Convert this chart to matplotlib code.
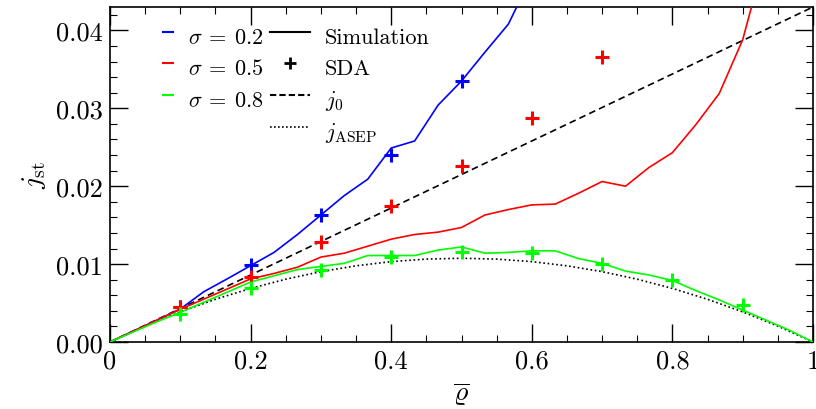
import numpy as np
import matplotlib
matplotlib.use("Agg")
import matplotlib.pyplot as plt
from matplotlib.lines import Line2D

plt.rcParams['font.family'] = 'serif'
plt.rcParams['font.serif'] = ['cmr10']
plt.rcParams['mathtext.fontset'] = 'cm'
plt.rcParams['axes.formatter.use_mathtext'] = True

# simulation grid: rho = k/30
rho_sim = np.arange(0, 31) / 30.0

sim_02 = [0.0, 0.0014, 0.0028, 0.00423, 0.00645, 0.0081, 0.0098, 0.0115, 0.0138, 0.0163,
          0.0188, 0.0209, 0.0249, 0.0258, 0.0304, 0.0335, 0.0372, 0.0408, 0.0470]
sim_05 = [0.0, 0.0014, 0.0028, 0.0042, 0.0055, 0.0068, 0.0081, 0.0088, 0.0096, 0.0109,
          0.0114, 0.0123, 0.0132, 0.0138, 0.0141, 0.0147, 0.0163, 0.0170, 0.0176, 0.0177,
          0.0191, 0.0206, 0.0200, 0.0224, 0.0243, 0.0279, 0.0319, 0.0388, 0.0500]
sim_08 = [0.0, 0.0013, 0.0026, 0.0038, 0.0051, 0.0064, 0.0077, 0.0085, 0.0093, 0.0097,
          0.0101, 0.0111, 0.0111, 0.0111, 0.0118, 0.0122, 0.0114, 0.0115, 0.0117, 0.0117,
          0.0107, 0.0101, 0.0091, 0.0086, 0.0079, 0.0066, 0.0054, 0.0041, 0.0028, 0.0015,
          0.0]

# SDA points
rho_sda = [0.1, 0.2, 0.3, 0.4, 0.5, 0.6, 0.7, 0.8, 0.9]
sda_02 = [0.00445, 0.0099, 0.0163, 0.0240, 0.0335]
sda_05 = [0.0045, 0.0084, 0.0128, 0.0174, 0.0226, 0.0287, 0.0366]
sda_08 = [0.0036, 0.0069, 0.0093, 0.0109, 0.0115, 0.0114, 0.0100, 0.0080, 0.0047]

# reference currents
rho_j0 = [0.0, 1.0]
j0 = [0.0, 0.043]
rho_asep = [0.0, 0.05, 0.1, 0.15, 0.2, 0.25, 0.3, 0.35, 0.4, 0.45, 0.5,
            0.55, 0.6, 0.65, 0.7, 0.75, 0.8, 0.85, 0.9, 0.95, 1.0]
j_asep = [0.0, 0.00204, 0.00387, 0.00548, 0.00688, 0.00806, 0.00903, 0.00978, 0.01032,
          0.01064, 0.01075, 0.01064, 0.01032, 0.00978, 0.00903, 0.00806, 0.00688,
          0.00548, 0.00387, 0.00204, 0.0]

sigmas = ['0.2', '0.5', '0.8']
colors = ['#0000ff', '#ff0000', '#00ff00']

fig = plt.figure(figsize=(8.16, 4.10), dpi=100)
ax = fig.add_axes([110 / 816, 67 / 410, 703 / 816, 335 / 410])

ax.plot(rho_j0, j0, color='k', ls=(0, (4, 2.5)), lw=1.2, zorder=2)
ax.plot(rho_asep, j_asep, color='k', ls=(0, (1, 1.6)), lw=1.2, zorder=2)

sims = [sim_02, sim_05, sim_08]
sdas = [sda_02, sda_05, sda_08]
for s, c, sim, sda in zip(sigmas, colors, sims, sdas):
    ax.plot(rho_sim[:len(sim)], sim, color=c, lw=1.2, zorder=3)
    ax.plot(rho_sda[:len(sda)], sda, ls='none', marker='+', ms=10, mew=2.2,
            color=c, zorder=4)

ax.set_xlim(0, 1)
ax.set_ylim(0, 0.043)
ax.set_xticks([0, 0.2, 0.4, 0.6, 0.8, 1.0])
ax.set_xticklabels(['0', '0.2', '0.4', '0.6', '0.8', '1'])
ax.set_yticks([0, 0.01, 0.02, 0.03, 0.04])
ax.set_yticklabels(['0.00', '0.01', '0.02', '0.03', '0.04'])
ax.set_xticks(np.arange(0, 1.0001, 0.05), minor=True)
ax.set_yticks(np.arange(0, 0.043, 0.002), minor=True)
ax.tick_params(which='both', direction='in', top=True, right=True, labelsize=19)
ax.tick_params(which='major', length=13, width=1.0, pad=5)
ax.tick_params(which='minor', length=5, width=0.8)
for sp in ax.spines.values():
    sp.set_linewidth(1.2)

ax.set_xlabel(r'$\overline{\varrho}$', fontsize=20, labelpad=5)
ax.set_ylabel(r'$j_{\rm st}$', fontsize=20, labelpad=6)

# two side-by-side legends: colour key and line-style key
leg_kw = dict(loc='upper left', frameon=False, fontsize=16, handletextpad=0.68,
              handleheight=1.7, labelspacing=0.08, borderaxespad=0, borderpad=0)

h1 = [Line2D([], [], color=c, lw=1.5) for c in colors]
l1 = [r'$\sigma\:=\:%s$' % s for s in sigmas]
leg1 = ax.legend(h1, l1, bbox_to_anchor=(0.0754, 0.96), handlelength=0.45, **leg_kw)
ax.add_artist(leg1)

h2 = [Line2D([], [], color='k', lw=1.5),
      Line2D([], [], color='k', ls='none', marker='+', ms=8, mew=2),
      Line2D([], [], color='k', lw=1.5, ls=(0, (3, 1.5))),
      Line2D([], [], color='k', lw=1.2, ls=(0, (1, 1.4)))]
l2 = ['Simulation', 'SDA', r'$j_0$', r'$j_{\rm ASEP}$']
ax.legend(h2, l2, bbox_to_anchor=(0.2276, 0.96), handlelength=1.8, **leg_kw)

fig.savefig('out.png', dpi=100)
